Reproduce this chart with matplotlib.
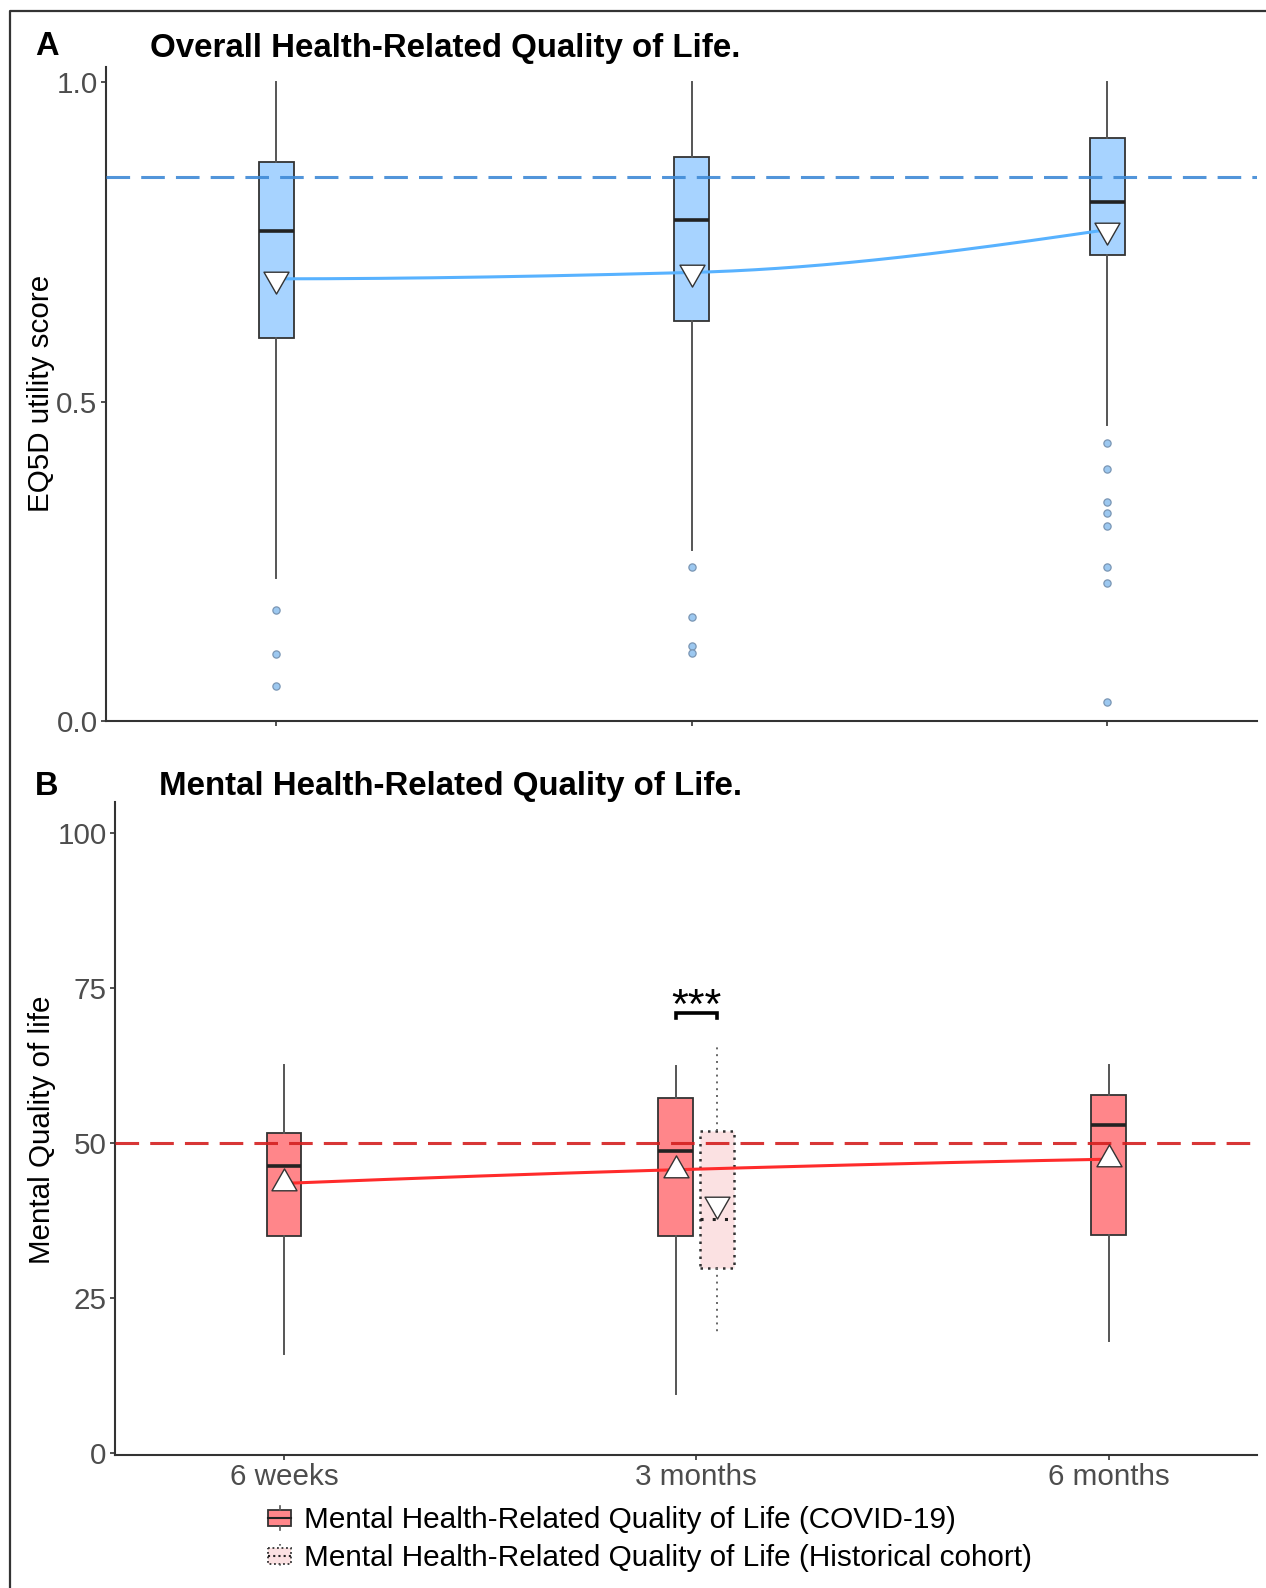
import numpy as np
import matplotlib
matplotlib.use('Agg')
import matplotlib.pyplot as plt
from matplotlib.path import Path
from matplotlib.patches import Rectangle

plt.rcParams['font.family'] = ['Liberation Sans', 'DejaVu Sans']

# ---------------- data ----------------
timepoints = ['6 weeks', '3 months', '6 months']

# Panel A: EQ5D utility score (COVID-19)
eq5d_q1 = [0.599, 0.626, 0.729]
eq5d_median = [0.767, 0.784, 0.813]
eq5d_q3 = [0.875, 0.882, 0.913]
eq5d_whislo = [0.224, 0.268, 0.463]
eq5d_whishi = [1.0, 1.0, 1.0]
eq5d_mean = [0.692, 0.702, 0.769]
eq5d_outliers_6w = [0.174, 0.105, 0.055]
eq5d_outliers_3m = [0.241, 0.163, 0.117, 0.106]
eq5d_outliers_6m = [0.435, 0.394, 0.343, 0.325, 0.305, 0.241, 0.216, 0.029]
eq5d_reference = 0.851

# Panel B: Mental quality of life (COVID-19)
mcs_q1 = [35.0, 35.0, 35.1]
mcs_median = [46.3, 48.7, 52.9]
mcs_q3 = [51.7, 57.3, 57.8]
mcs_whislo = [16.0, 9.5, 18.1]
mcs_whishi = [62.6, 62.4, 62.6]
mcs_mean = [43.5, 45.7, 47.4]
# Historical cohort (3 months only)
hist_q1 = 29.8
hist_median = 37.7
hist_q3 = 52.0
hist_whislo = 19.3
hist_whishi = 65.8
hist_mean = 40.1
mcs_reference = 50
signif_label = '***'

legend_labels = ['Mental Health-Related Quality of Life (COVID-19)',
                 'Mental Health-Related Quality of Life (Historical cohort)']

# ---------------- styles ----------------
W, H = 1266, 1588
BLUE_FILL = '#A7D3FF'
BLUE_LINE = '#58B2FF'
BLUE_DASH = '#3F8AD6'
RED_FILL = '#FF868A'
RED_LINE = '#FF2B2B'
RED_DASH = '#D42020'
HIST_FILL = '#FBE1E2'
EDGE = '#333333'
WHISK = '#555555'
TICKC = '#4D4D4D'

fig = plt.figure(figsize=(W / 100, H / 100), dpi=100)


def fx(px):
    return px / W


def fy(py):
    return 1 - py / H


def tri_marker(up):
    h = 1.75
    s = -1 if up else 1
    verts = [(-1, s * h / 3), (1, s * h / 3), (0, -s * 2 * h / 3), (-1, s * h / 3)]
    return Path(verts, [Path.MOVETO, Path.LINETO, Path.LINETO, Path.CLOSEPOLY])


def pchip(x, y, xs):
    x = np.asarray(x, float)
    y = np.asarray(y, float)
    h = np.diff(x)
    d = np.diff(y) / h
    m = np.zeros_like(y)
    for k in range(1, len(x) - 1):
        if d[k - 1] * d[k] > 0:
            w1 = 2 * h[k] + h[k - 1]
            w2 = h[k] + 2 * h[k - 1]
            m[k] = (w1 + w2) / (w1 / d[k - 1] + w2 / d[k])
    m0 = ((2 * h[0] + h[1]) * d[0] - h[0] * d[1]) / (h[0] + h[1])
    if np.sign(m0) != np.sign(d[0]):
        m0 = 0
    elif abs(m0) > 3 * abs(d[0]):
        m0 = 3 * d[0]
    mn = ((2 * h[-1] + h[-2]) * d[-1] - h[-1] * d[-2]) / (h[-1] + h[-2])
    if np.sign(mn) != np.sign(d[-1]):
        mn = 0
    elif abs(mn) > 3 * abs(d[-1]):
        mn = 3 * d[-1]
    m[0], m[-1] = m0, mn
    out = np.empty_like(xs)
    for i, xv in enumerate(xs):
        k = min(np.searchsorted(x, xv, side='right') - 1, len(x) - 2)
        k = max(k, 0)
        t = (xv - x[k]) / h[k]
        h00 = 2 * t**3 - 3 * t**2 + 1
        h10 = t**3 - 2 * t**2 + t
        h01 = -2 * t**3 + 3 * t**2
        h11 = t**3 - t**2
        out[i] = h00 * y[k] + h10 * h[k] * m[k] + h01 * y[k + 1] + h11 * h[k] * m[k + 1]
    return out


def style_axes(ax):
    for s in ['top', 'right']:
        ax.spines[s].set_visible(False)
    for s in ['left', 'bottom']:
        ax.spines[s].set_color(EDGE)
        ax.spines[s].set_linewidth(1.5)
    ax.tick_params(axis='both', length=3.6, width=1.2, color=EDGE,
                   labelcolor=TICKC, labelsize=21.3, pad=2.5)
    ax.set_xlim(0.59, 3.36)
    ax.set_xticks([1, 2, 3])


dash_style = (0, (17.0 / 2.2, 8.0 / 2.2))
BW = 0.084

# ---------------- Panel A ----------------
axA = fig.add_axes([fx(106), fy(721), fx(1257) - fx(106), fy(67) - fy(721)])
style_axes(axA)
axA.set_ylim(0, 1.0235)
axA.set_yticks([0, 0.5, 1.0])
axA.set_yticklabels(['0.0', '0.5', '1.0'])
axA.set_xticklabels(['', '', ''])

outliers_A = [eq5d_outliers_6w, eq5d_outliers_3m, eq5d_outliers_6m]
statsA = [dict(med=eq5d_median[i], q1=eq5d_q1[i], q3=eq5d_q3[i],
               whislo=eq5d_whislo[i], whishi=eq5d_whishi[i], fliers=outliers_A[i])
          for i in range(3)]
xA = [1, 2, 3]
axA.bxp(statsA, positions=xA, widths=BW, patch_artist=True, showcaps=False,
        showfliers=True, manage_ticks=False,
        boxprops=dict(facecolor=BLUE_FILL, edgecolor=EDGE, linewidth=1.3),
        medianprops=dict(color='#222222', linewidth=2.6),
        whiskerprops=dict(color=WHISK, linewidth=1.4),
        flierprops=dict(marker='o', markerfacecolor='#9CC8F0', markeredgecolor='#7A96B4',
                        markersize=5.2, markeredgewidth=0.9))
axA.axhline(eq5d_reference, color=BLUE_DASH, lw=2.2, linestyle=dash_style, alpha=0.9, zorder=4)
xs = np.linspace(1, 3, 300)
axA.plot(xs, pchip(xA, eq5d_mean, xs), color=BLUE_LINE, lw=2.2, zorder=5)
axA.plot(xA, eq5d_mean, linestyle='none', marker=tri_marker(False), markersize=21,
         markerfacecolor='white', markeredgecolor='#333333', markeredgewidth=1.0, zorder=6)

# ---------------- Panel B ----------------
axB = fig.add_axes([fx(115), fy(1455), fx(1257) - fx(115), fy(802) - fy(1455)])
style_axes(axB)
axB.set_ylim(-0.3, 105)
axB.set_yticks([0, 25, 50, 75, 100])
axB.set_xticklabels(timepoints)

xB = [1, 1.95, 3]
statsB = [dict(med=mcs_median[i], q1=mcs_q1[i], q3=mcs_q3[i],
               whislo=mcs_whislo[i], whishi=mcs_whishi[i], fliers=[])
          for i in range(3)]
axB.bxp(statsB, positions=xB, widths=BW, patch_artist=True, showcaps=False,
        showfliers=False, manage_ticks=False,
        boxprops=dict(facecolor=RED_FILL, edgecolor=EDGE, linewidth=1.3),
        medianprops=dict(color='#222222', linewidth=2.6),
        whiskerprops=dict(color=WHISK, linewidth=1.4))
x_hist = 2.05
statsH = [dict(med=hist_median, q1=hist_q1, q3=hist_q3,
               whislo=hist_whislo, whishi=hist_whishi, fliers=[])]
axB.bxp(statsH, positions=[x_hist], widths=BW, patch_artist=True, showcaps=False,
        showfliers=False, manage_ticks=False,
        boxprops=dict(facecolor=HIST_FILL, edgecolor=EDGE, linewidth=1.8, linestyle=(0, (1, 2.0))),
        medianprops=dict(color='#222222', linewidth=2.2, linestyle=(0, (1, 3))),
        whiskerprops=dict(color='#666666', linewidth=1.4, linestyle=(0, (1, 2.5))))
axB.axhline(mcs_reference, color=RED_DASH, lw=2.2, linestyle=dash_style, alpha=0.9, zorder=4)
axB.plot(xs, pchip(xB, mcs_mean, xs), color=RED_LINE, lw=2.2, zorder=5)
axB.plot(xB, mcs_mean, linestyle='none', marker=tri_marker(True), markersize=21,
         markerfacecolor='white', markeredgecolor='#333333', markeredgewidth=1.0, zorder=6)
axB.plot([x_hist], [hist_mean], linestyle='none', marker=tri_marker(False), markersize=21,
         markerfacecolor='white', markeredgecolor='#333333', markeredgewidth=1.0, zorder=6)

# significance bracket
axB.plot([xB[1], xB[1], x_hist, x_hist], [70.2, 71.0, 71.0, 70.2], color='black', lw=2.6,
         solid_joinstyle='miter', zorder=6)
axB.text((xB[1] + x_hist) / 2, 70.2, signif_label, ha='center', va='baseline',
         fontsize=31, color='black')

# ---------------- texts ----------------
fig.text(fx(35), fy(55), 'A', fontsize=23.5, weight='bold', ha='left', va='baseline')
fig.text(fx(150), fy(57), 'Overall Health-Related Quality of Life.', fontsize=23.8,
         weight='bold', ha='left', va='baseline')
fig.text(fx(35), fy(795), 'B', fontsize=23.5, weight='bold', ha='left', va='baseline')
fig.text(fx(159), fy(795), 'Mental Health-Related Quality of Life.', fontsize=23.8,
         weight='bold', ha='left', va='baseline')
fig.text(fx(41), fy(393), 'EQ5D utility score', rotation=90, fontsize=21.3,
         ha='center', va='center')
fig.text(fx(42), fy(1130), 'Mental Quality of life', rotation=90, fontsize=21.3,
         ha='center', va='center')

# ---------------- overlay: border + legend ----------------
ov = fig.add_axes([0, 0, 1, 1], zorder=-1)
ov.set_xlim(0, W)
ov.set_ylim(H, 0)
ov.axis('off')
ov.plot([10, 10, W + 5], [H + 5, 11, 11], color='#333333', lw=1.6)

fig_ov = fig.add_axes([0, 0, 1, 1], zorder=10)
fig_ov.set_xlim(0, W)
fig_ov.set_ylim(H, 0)
fig_ov.axis('off')
rows = [1518, 1556]
for i, (fc, ls) in enumerate([(RED_FILL, '-'), (HIST_FILL, (0, (1, 1.5)))]):
    cy = rows[i]
    fig_ov.add_patch(Rectangle((268, cy - 8), 23, 16, facecolor=fc, edgecolor=EDGE,
                               lw=1.3, linestyle=ls))
    fig_ov.plot([268, 291], [cy, cy], color='#222222', lw=1.5, linestyle=ls)
    fig_ov.plot([279.5, 279.5], [cy - 12, cy - 8], color=WHISK, lw=1.2, linestyle=ls)
    fig_ov.plot([279.5, 279.5], [cy + 8, cy + 12], color=WHISK, lw=1.2, linestyle=ls)
    fig_ov.text(304, cy + 10.5, legend_labels[i], fontsize=21.4, ha='left', va='baseline',
                color='black')

fig.savefig('out.png', dpi=100)
